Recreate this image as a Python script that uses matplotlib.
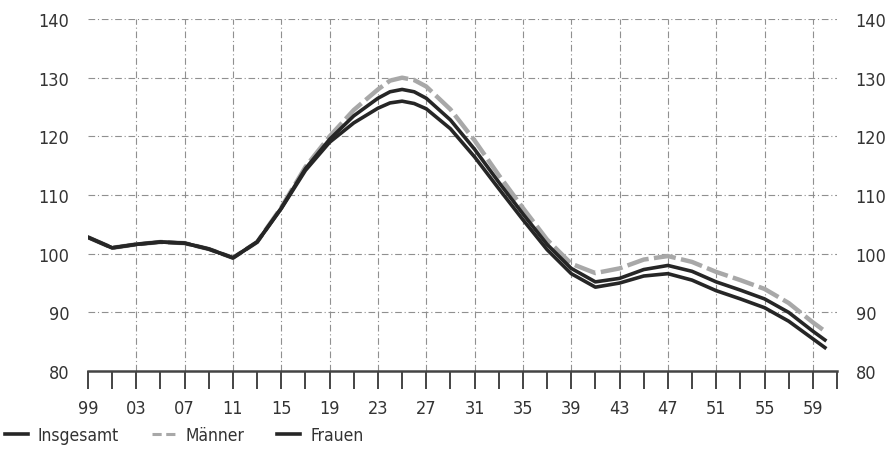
import matplotlib
matplotlib.use('Agg')
from matplotlib import pyplot as plt
from matplotlib.lines import Line2D
from matplotlib.ticker import FixedLocator, NullFormatter

years = [1999, 2001, 2003, 2005, 2007, 2009, 2011, 2013, 2015, 2017, 2019, 2021,
         2023, 2024, 2025, 2026, 2027, 2029, 2031, 2033, 2035, 2037, 2039, 2041,
         2043, 2045, 2047, 2049, 2051, 2053, 2055, 2057, 2059, 2060]

insgesamt = [102.8, 101.0, 101.6, 102.0, 101.8, 100.8, 99.3, 102.0, 107.8, 114.5,
             119.5, 123.5, 126.5, 127.6, 128.0, 127.6, 126.5, 122.8, 117.8, 112.2,
             106.8, 101.6, 97.5, 95.2, 95.8, 97.3, 98.0, 97.0, 95.2, 93.8, 92.3,
             90.0, 86.8, 85.3]

maenner = [102.8, 101.0, 101.6, 102.0, 101.8, 100.8, 99.3, 102.0, 107.9, 114.8,
           120.0, 124.5, 128.0, 129.5, 130.0, 129.6, 128.5, 124.6, 119.3, 113.4,
           107.8, 102.4, 98.3, 96.7, 97.5, 99.0, 99.6, 98.6, 96.9, 95.5, 94.0,
           91.6, 88.3, 86.8]

frauen = [102.8, 101.0, 101.6, 102.0, 101.8, 100.8, 99.3, 102.0, 107.7, 114.2,
          119.0, 122.3, 124.8, 125.7, 126.0, 125.6, 124.7, 121.3, 116.5, 111.1,
          105.8, 100.7, 96.6, 94.3, 95.0, 96.2, 96.6, 95.5, 93.7, 92.3, 90.8,
          88.5, 85.5, 84.0]

major_years = [1999, 2003, 2007, 2011, 2015, 2019, 2023, 2027, 2031, 2035, 2039,
               2043, 2047, 2051, 2055, 2059]
year_labels = ['99', '03', '07', '11', '15', '19', '23', '27', '31', '35', '39',
               '43', '47', '51', '55', '59']
minor_years = list(range(2001, 2062, 2))
y_ticks = [80, 90, 100, 110, 120, 130, 140]

plt.rcParams['font.family'] = ['DejaVu Sans']
plt.rcParams['font.stretch'] = 'condensed'
text_col = '#333333'
grid_col = '#909090'
dashdot = (0, (6, 2.5, 1, 2.5))

fig = plt.figure(figsize=(8.89, 4.77), dpi=100)
ax = fig.add_axes([0.099, 0.22, 0.8425, 0.738])

# Gitterlinien
for v in y_ticks[1:]:
    ax.axhline(v, color=grid_col, lw=0.8, ls=dashdot, zorder=1)
ax.vlines(major_years[1:], 80, 140, color=grid_col, lw=0.8, ls=dashdot, zorder=1)

ax.plot(years, maenner, color='#a8a8a8', lw=3.2, ls=(0, (5, 1.2)), zorder=3)
ax.plot(years, insgesamt, color='#262626', lw=2.6, zorder=4)
ax.plot(years, frauen, color='#262626', lw=2.6, zorder=4)

ax.set_xlim(1999, 2061)
ax.set_ylim(80, 140)

ax.xaxis.set_major_locator(FixedLocator(major_years))
ax.set_xticklabels(year_labels)
ax.xaxis.set_minor_locator(FixedLocator(minor_years))
ax.xaxis.set_minor_formatter(NullFormatter())
ax.set_yticks(y_ticks)

for s in ['left', 'right', 'top']:
    ax.spines[s].set_visible(False)
ax.spines['bottom'].set_color('#444444')
ax.spines['bottom'].set_linewidth(1.8)

ax.tick_params(axis='x', which='both', direction='out', length=13, width=1.4,
               color='#444444', labelsize=13, labelcolor=text_col, pad=7)
ax.tick_params(axis='y', left=False, right=False, labelleft=True, labelright=True,
               labelsize=13, labelcolor=text_col, pad=10)

handles = [Line2D([], [], color='#262626', lw=2.6),
           Line2D([], [], color='#a8a8a8', lw=2.2, ls=(0, (3, 1.5))),
           Line2D([], [], color='#262626', lw=2.6)]
fig.legend(handles, ['Insgesamt', 'Männer', 'Frauen'], loc='lower left',
           bbox_to_anchor=(-0.012, 0.035), ncol=3, frameon=False, fontsize=12.5,
           handlelength=1.3, handletextpad=0.6, columnspacing=1.9,
           labelcolor=text_col)

fig.savefig('out.png', dpi=100, facecolor='white')
